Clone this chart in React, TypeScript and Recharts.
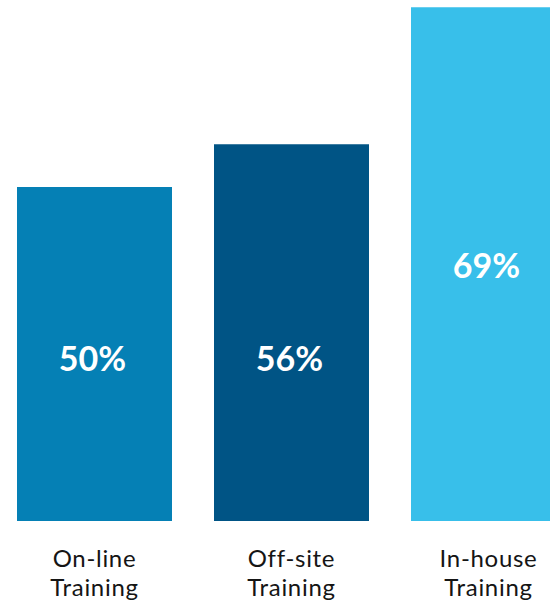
import React from "react";
import { BarChart, Bar, XAxis, YAxis, Cell, LabelList } from "recharts";

const categories = ["On-line\nTraining", "Off-site\nTraining", "In-house\nTraining"];
const values = [50, 56, 69];
// apparent drawn bar lengths (in % units of the first bar's scale)
const barLengths = [50, 56.4, 76.9];
const colors = ["#0580b5", "#005485", "#38bfea"];

const data = categories.map((c, i) => ({ name: c, value: values[i], len: barLengths[i] }));

const FONT = "Lato, 'Open Sans', sans-serif";

const Tick = (props: any) => {
  const { x, payload } = props;
  const lines = String(payload.value).split("\n");
  return (
    <g>
      {lines.map((l, i) => (
        <text key={i} x={x} y={567 + i * 29} textAnchor="middle" fontFamily={FONT} fontSize={24} letterSpacing={0.7} fill="#151515">
          {l}
        </text>
      ))}
    </g>
  );
};

const ValueLabel = (props: any) => {
  const { x, y, width, height, index } = props;
  const bottom = y + height;
  const baseline = index === 2 ? y + height / 2 + 14 : bottom - 150;
  return (
    <text x={x + width / 2 - 2} y={baseline} textAnchor="middle" fontFamily={FONT} fontWeight={700} fontSize={34} fill="#ffffff">
      {values[index]}%
    </text>
  );
};

export default function App() {
  return (
    <div style={{ position: "absolute", left: 0, top: 0, width: 550, height: 603, overflow: "hidden", background: "#fff" }}>
      <style>{`body{margin:0;overflow:hidden}`}</style>
      <div style={{ marginLeft: -4 }}>
        <BarChart width={591} height={603} data={data} margin={{ top: 0, right: 0, bottom: 0, left: 0 }}>
          <XAxis dataKey="name" axisLine={false} tickLine={false} height={82} tick={<Tick />} interval={0} />
          <YAxis hide domain={[0, 78]} />
          <Bar dataKey="len" barSize={155} isAnimationActive={false}>
            {data.map((d, i) => (
              <Cell key={i} fill={colors[i]} />
            ))}
            <LabelList dataKey="value" content={<ValueLabel />} />
          </Bar>
        </BarChart>
      </div>
    </div>
  );
}
